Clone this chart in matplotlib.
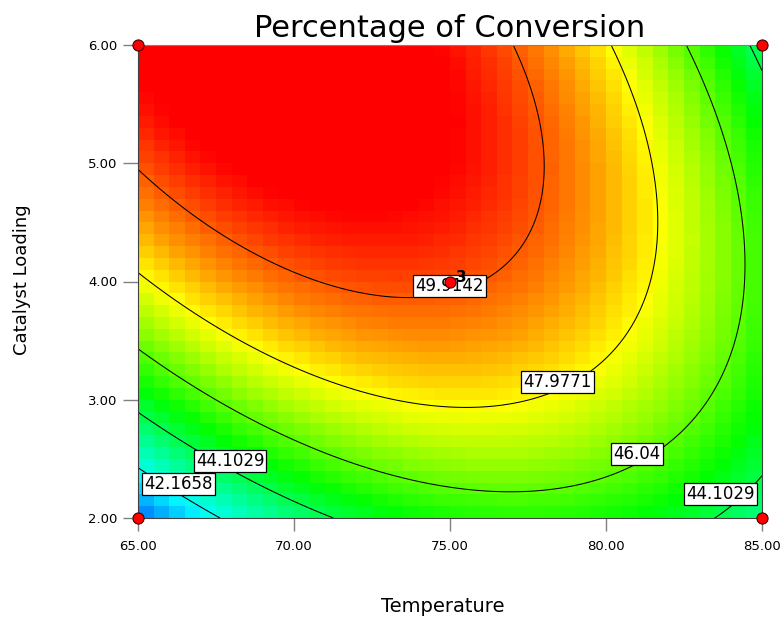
import numpy as np
import matplotlib
matplotlib.use("Agg")
import matplotlib.pyplot as plt
from matplotlib.colors import ListedColormap, hsv_to_rgb

# fitted quadratic in coded units: 1, A, B, AB, A^2, B^2
model_terms = ["const", "A", "B", "AB", "A2", "B2"]
model_coef = [50.0559, -1.0790, 2.8214, -2.6758, -3.3625, -2.0650]

temp_range = [65.0, 85.0]
cat_range = [2.0, 6.0]
contour_levels = [42.1658, 44.1029, 46.04, 47.9771, 49.9142]
color_range = [40.2287, 51.8513]

# design points and the replicate count at the centre
design_temp = [65.0, 65.0, 85.0, 85.0, 75.0]
design_cat = [2.0, 6.0, 2.0, 6.0, 4.0]
center_reps = "3"

# where each contour label sits (Temperature, Catalyst Loading, level)
label_temp = [74.98, 78.45, 80.99, 67.95, 66.30, 83.67]
label_cat = [3.958, 3.146, 2.541, 2.482, 2.288, 2.199]
label_level = [49.9142, 47.9771, 46.04, 44.1029, 42.1658, 44.1029]

x_ticks = [65, 70, 75, 80, 85]
y_ticks = [2, 3, 4, 5, 6]


def predict(temp, cat):
    a = (np.asarray(temp) - 75.0) / 10.0
    b = (np.asarray(cat) - 4.0) / 2.0
    c0, c1, c2, c12, c11, c22 = model_coef
    return c0 + c1 * a + c2 * b + c12 * a * b + c11 * a ** 2 + c22 * b ** 2


# blue -> cyan -> green -> yellow -> red ramp, red held at the top end
f = np.linspace(0, 1, 256)
hue = np.clip(215 - 232.5 * f, 0, None) / 360.0
cmap = ListedColormap(hsv_to_rgb(np.column_stack([hue, np.ones_like(f), np.ones_like(f)])))

fig = plt.figure(figsize=(7.84, 6.18), dpi=100)
ax = fig.add_axes([138 / 784, 1 - 518 / 618, 624 / 784, 473 / 618])

# coarse cells for the colour fill
n = 40
xe = np.linspace(*temp_range, n + 1)
ye = np.linspace(*cat_range, n + 1)
xc = 0.5 * (xe[:-1] + xe[1:])
yc = 0.5 * (ye[:-1] + ye[1:])
cells = predict(*np.meshgrid(xc, yc))
ax.pcolormesh(xe, ye, cells, cmap=cmap, vmin=color_range[0], vmax=color_range[1],
              shading="flat", edgecolors="none", antialiased=False)

# smooth contour lines
xf = np.linspace(*temp_range, 300)
yf = np.linspace(*cat_range, 300)
XF, YF = np.meshgrid(xf, yf)
ax.contour(XF, YF, predict(XF, YF), levels=contour_levels, colors="black", linewidths=0.75)

for t, c, lv in zip(label_temp, label_cat, label_level):
    txt = f"{lv:.4f}".rstrip("0").rstrip(".")
    ax.text(t, c, txt, ha="center", va="center", fontsize=12, zorder=5,
            bbox=dict(boxstyle="square,pad=0.12", fc="white", ec="black", lw=0.9))

ax.plot(design_temp, design_cat, "o", ms=8, mfc="#ff0000", mec="#400000", mew=0.8,
        clip_on=False, zorder=6)
ax.annotate(center_reps, (design_temp[-1], design_cat[-1]), xytext=(8, 3),
            textcoords="offset points", ha="center", va="center",
            fontsize=11, fontweight="bold", zorder=7)

ax.set_xlim(*temp_range)
ax.set_ylim(*cat_range)
ax.set_xticks(x_ticks, labels=[f"{v:.2f}" for v in x_ticks])
ax.set_yticks(y_ticks, labels=[f"{v:.2f}" for v in y_ticks])
ax.tick_params(axis="x", length=9, width=1, color="#808080", pad=7, labelsize=9.5)
ax.tick_params(axis="y", length=11, width=1, color="#808080", pad=4, labelsize=9.5)
for side in ["left", "bottom", "right"]:
    ax.spines[side].set_color("#404040")
ax.spines["top"].set_color("#808080")

fig.text(0.574, 1 - 37 / 618, "Percentage of Conversion", ha="center", va="baseline", fontsize=22)
fig.text(443 / 784, 1 - 612 / 618, "Temperature", ha="center", va="baseline", fontsize=14)
fig.text(22 / 784, 1 - 280 / 618, "Catalyst Loading", ha="center", va="center",
         rotation=90, fontsize=13)

fig.savefig("out.png", dpi=100)
